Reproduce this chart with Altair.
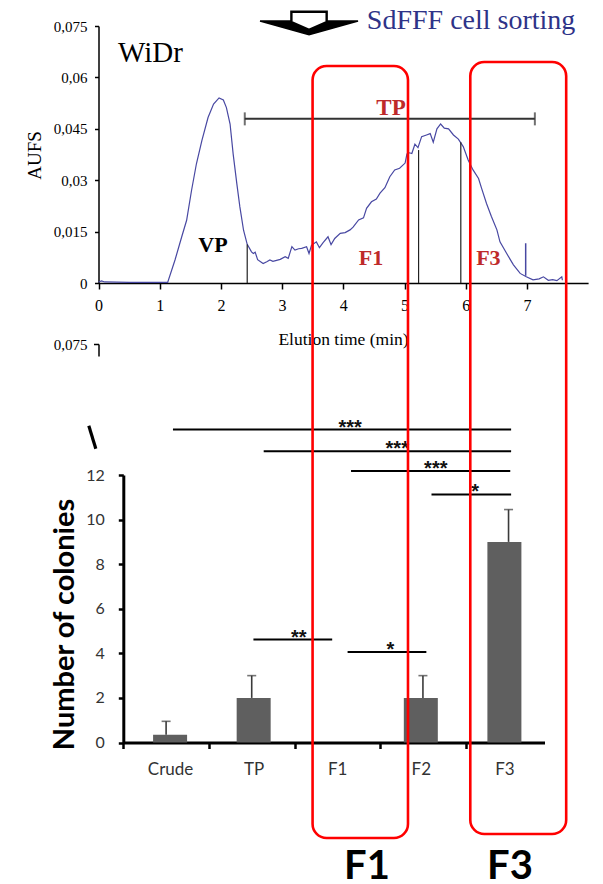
import json
import altair as alt
import pandas as pd

# ---------------- chromatogram (top panel) ----------------
elution_time = [0.00, 0.05, 0.10, 0.50, 1.00, 1.13, 1.25, 1.36, 1.44, 1.52, 1.60, 1.69, 1.79, 1.88,
                1.97, 2.04, 2.09, 2.15, 2.20, 2.26, 2.31, 2.37, 2.43, 2.50, 2.53, 2.56, 2.60, 2.69,
                2.75, 2.80, 2.85, 2.91, 2.97, 3.05, 3.10, 3.16, 3.21, 3.27, 3.32, 3.40, 3.44, 3.48,
                3.56, 3.61, 3.67, 3.75, 3.80, 3.86, 3.95, 4.03, 4.11, 4.16, 4.25, 4.33, 4.38, 4.46,
                4.54, 4.60, 4.68, 4.76, 4.84, 4.92, 5.01, 5.04, 5.08, 5.12, 5.17, 5.22, 5.28, 5.36,
                5.42, 5.47, 5.53, 5.59, 5.65, 5.72, 5.80, 5.88, 5.96, 6.04, 6.12, 6.21, 6.26, 6.34,
                6.42, 6.51, 6.56, 6.67, 6.78, 6.89, 6.99, 7.10, 7.20, 7.27, 7.35, 7.42, 7.49, 7.57, 7.58]
aufs = [0.0003, 0.0006, 0.0003, 0.0002, 0.0002, 0.0002, 0.0067, 0.0135, 0.0183, 0.0270, 0.0348,
        0.0416, 0.0483, 0.0522, 0.0540, 0.0534, 0.0512, 0.0464, 0.0377, 0.0290, 0.0222, 0.0154,
        0.0113, 0.0091, 0.0086, 0.0090, 0.0068, 0.0057, 0.0062, 0.0067, 0.0063, 0.0066, 0.0069,
        0.0077, 0.0072, 0.0106, 0.0096, 0.0100, 0.0101, 0.0106, 0.0086, 0.0110, 0.0120, 0.0103,
        0.0118, 0.0135, 0.0112, 0.0130, 0.0145, 0.0147, 0.0155, 0.0163, 0.0184, 0.0190, 0.0218,
        0.0237, 0.0245, 0.0262, 0.0278, 0.0310, 0.0330, 0.0335, 0.0350, 0.0377, 0.0380, 0.0378,
        0.0405, 0.0395, 0.0427, 0.0432, 0.0436, 0.0411, 0.0450, 0.0464, 0.0452, 0.0450, 0.0432,
        0.0420, 0.0398, 0.0359, 0.0330, 0.0305, 0.0276, 0.0232, 0.0194, 0.0155, 0.0120, 0.0086,
        0.0053, 0.0028, 0.0018, 0.0009, 0.0012, 0.0018, 0.0008, 0.0010, 0.0007, 0.0018, 0.0008]

cut_time = [2.43, 5.23, 5.92]
cut_top = [0.0112, 0.0388, 0.0411]
spike_time = [6.98]
spike_low = [0.0021]
spike_high = [0.0116]
tp_range = [2.39, 7.13]
tp_level = [0.0479]
aufs_ticks = [0, 0.015, 0.03, 0.045, 0.06, 0.075]
time_ticks = [0, 1, 2, 3, 4, 5, 6, 7]

# ---------------- colony counts (bottom panel) ----------------
categories = ["Crude", "TP", "F1", "F2", "F3"]
colonies = [0.35, 2.0, 0.0, 2.0, 9.0]
colonies_err = [0.6, 1.0, 0.0, 1.0, 1.45]
colony_ticks = [0, 2, 4, 6, 8, 10, 12]

sig_from = [0.58, 1.64, 2.66, 3.60, 1.52, 2.62]
sig_to = [4.53, 4.53, 4.52, 4.53, 2.44, 3.54]
sig_level = [14.04, 13.07, 12.18, 11.13, 4.62, 4.06]
sig_stars = ["***", "***", "***", "*", "**", "*"]
sig_star_pos = [2.65, 3.20, 3.65, 4.11, 2.05, 3.12]

# ---------------- highlighted fractions (figure overlay) ----------------
box_names = ["F1", "F3"]
box_t0 = [3.498, 6.075]
box_t1 = [5.057, 7.642]
box_top = [0.0747, 0.0701]      # fraction of figure height
box_bottom = [0.948, 0.9434]
box_label_t = [4.387, 6.724]
box_label_y = [0.994, 0.994]

SERIF = "Liberation Serif"
SANS = "Lato"
RED_TXT = "#be2a2a"
CURVE = "#4848a2"
W, H = 587, 876

SX_TOP = alt.Scale(domain=[0, 8], range=[90.5, 580.1], nice=False, zero=False)
SY_TOP = alt.Scale(domain=[0, 0.075], range=[275, 18], nice=False, zero=False)
SY_STRAY = alt.Scale(domain=[0.0702, 0.075], range=[348, 336], nice=False, zero=False)
SX_BOT = alt.Scale(domain=[0, 4.92], range=[115.3, 536.5], nice=False, zero=False)
SY_BOT = alt.Scale(domain=[0, 12], range=[734.5, 467], nice=False, zero=False)
SY_FIG = alt.Scale(domain=[0, 1], range=[-8, 876], nice=False, zero=False)

comma = "replace(format(datum.value, '~g'), '.', ',')"

AX_TOP = alt.Axis(orient="bottom", offset=275 - H, values=time_ticks, grid=False,
                  domainColor="black", domainWidth=1.5, tickColor="black", tickWidth=1.5, tickSize=6,
                  labelFont=SERIF, labelFontSize=16, labelColor="black", labelPadding=8, labelFlush=False,
                  title="Elution time (min)", titleFont=SERIF, titleFontSize=17.5, titleFontWeight="normal",
                  titleColor="black", titleX=335, titleY=61, titleAlign="center", titleBaseline="alphabetic")
AY_TOP = alt.Axis(orient="left", offset=-90.5, values=aufs_ticks, grid=False, labelExpr=comma,
                  domainColor="black", domainWidth=1.5, tickColor="black", tickWidth=1.5, tickSize=4,
                  labelFont=SERIF, labelFontSize=15, labelColor="black", labelPadding=7.5, labelFlush=False,
                  title="AUFS", titleFont=SERIF, titleFontSize=19, titleFontWeight="normal", titleColor="black",
                  titleAngle=270, titleX=-58, titleY=147, titleAlign="center", titleBaseline="alphabetic")
AY_STRAY = alt.Axis(orient="left", offset=-90.5, values=[0.075], grid=False, labelExpr=comma,
                    domainColor="black", domainWidth=1.5, tickColor="black", tickWidth=1.5, tickSize=5,
                    labelFont=SERIF, labelFontSize=15, labelColor="black", labelPadding=6.5, labelFlush=False,
                    title=None)
AX_BOT_TICKS = alt.Axis(orient="bottom", offset=734.5 - H, values=[0, 1, 2, 3, 4], labels=False, grid=False,
                        tickSize=6, tickWidth=2.5, tickColor="black", domainColor="black", domainWidth=3,
                        title=None)
AX_BOT_LABELS = alt.Axis(orient="bottom", offset=734.5 - H, values=[0.5, 1.5, 2.5, 3.5, 4.5],
                         ticks=False, tickSize=0, domain=False, grid=False,
                         labelExpr=json.dumps(categories) + "[floor(datum.value)]",
                         labelFont=SANS, labelFontSize=17, labelColor="#333333", labelPadding=19,
                         labelFlush=False, title=None)
AY_BOT = alt.Axis(orient="left", offset=-115.3, values=colony_ticks, grid=False,
                  domainColor="black", domainWidth=3, tickColor="black", tickWidth=2.5, tickSize=5,
                  labelFont=SANS, labelFontSize=16, labelColor="#333333", labelPadding=14, labelFlush=False,
                  title="Number of colonies", titleFont=SANS, titleFontSize=29, titleFontWeight="bold",
                  titleColor="black", titleAngle=270, titleX=-50.3, titleY=616, titleAlign="center",
                  titleBaseline="alphabetic")

# ---- top panel layers ----
df_curve = pd.DataFrame({"t": elution_time, "v": aufs})
curve = alt.Chart(df_curve).mark_line(color=CURVE, strokeWidth=1.2).encode(
    x=alt.X("t:Q", scale=SX_TOP, axis=AX_TOP),
    y=alt.Y("v:Q", scale=SY_TOP, axis=AY_TOP),
)

df_cut = pd.DataFrame({"t": cut_time, "top": cut_top, "base": [0.0] * len(cut_time)})
cuts = alt.Chart(df_cut).mark_rule(color="#222222", strokeWidth=1.2).encode(
    x=alt.X("t:Q", scale=SX_TOP, axis=None),
    y=alt.Y("base:Q", scale=SY_TOP, axis=None),
    y2="top:Q",
)

df_spike = pd.DataFrame({"t": spike_time, "lo": spike_low, "hi": spike_high})
spike = alt.Chart(df_spike).mark_rule(color=CURVE, strokeWidth=1.5).encode(
    x=alt.X("t:Q", scale=SX_TOP, axis=None),
    y=alt.Y("lo:Q", scale=SY_TOP, axis=None),
    y2="hi:Q",
)

df_tp = pd.DataFrame({"t0": [tp_range[0]], "t1": [tp_range[1]], "v": tp_level})
tp_line = alt.Chart(df_tp).mark_rule(color="#333333", strokeWidth=2).encode(
    x=alt.X("t0:Q", scale=SX_TOP, axis=None), x2="t1:Q",
    y=alt.Y("v:Q", scale=SY_TOP, axis=None),
)
df_tp_caps = pd.DataFrame({"t": tp_range, "v": tp_level * 2})
tp_caps = alt.Chart(df_tp_caps).mark_tick(orient="vertical", size=13, thickness=2, color="#333333").encode(
    x=alt.X("t:Q", scale=SX_TOP, axis=None),
    y=alt.Y("v:Q", scale=SY_TOP, axis=None),
)


def label(text, t, v, size, color="black", weight="normal", font=SERIF, align="center", scale_y=SY_TOP):
    df = pd.DataFrame({"t": [t], "v": [v], "txt": [text]})
    return alt.Chart(df).mark_text(font=font, fontSize=size, fontWeight=weight, color=color,
                                   align=align, baseline="alphabetic").encode(
        x=alt.X("t:Q", scale=SX_TOP, axis=None),
        y=alt.Y("v:Q", scale=scale_y, axis=None),
        text="txt:N",
    )


widr = label("WiDr", 0.319, 0.0645, 29, align="left")
vp = label("VP", 1.871, 0.00905, 22, weight="bold")
tp_txt = label("TP", 4.779, 0.0490, 23, color=RED_TXT, weight="bold")
f1_txt = label("F1", 4.453, 0.00525, 22, color=RED_TXT, weight="bold")
f3_txt = label("F3", 6.370, 0.00525, 22, color=RED_TXT, weight="bold")
sorting = label("SdFFF cell sorting", 4.385, 0.07420, 28, color="#2e3388", align="left")

arrow_head = alt.Chart(pd.DataFrame({"t": [3.44], "v": [0.07646]})).mark_point(
    shape="M -1 0 L 1 0 L 0 0.28 Z", size=9604, filled=True, fill="black", stroke="black",
    strokeWidth=1.5, opacity=1).encode(
    x=alt.X("t:Q", scale=SX_TOP, axis=None),
    y=alt.Y("v:Q", scale=SY_TOP, axis=None),
)
arrow_stem = alt.Chart(pd.DataFrame({"t": [3.44], "v": [0.07646]})).mark_point(
    shape="M -0.36 -0.19 L 0.36 -0.19 L 0.36 0.02 L 0 0.18 L -0.36 0.02 Z", size=9604,
    filled=True, fill="white", stroke="black", strokeWidth=2.4, opacity=1).encode(
    x=alt.X("t:Q", scale=SX_TOP, axis=None),
    y=alt.Y("v:Q", scale=SY_TOP, axis=None),
)

stray_axis = alt.Chart(pd.DataFrame({"v": [0.075]})).mark_point(opacity=0).encode(
    x=alt.X("v:Q", scale=SX_TOP, axis=None),
    y=alt.Y("v:Q", scale=SY_STRAY, axis=AY_STRAY),
)

# ---- bottom panel layers ----
df_bars = pd.DataFrame({"category": categories, "colonies": colonies, "err": colonies_err,
                        "slot": list(range(len(categories)))})
bars_base = alt.Chart(df_bars).transform_calculate(
    xc="datum.slot + 0.5", top="datum.colonies + datum.err", base="0")
bars = bars_base.mark_bar(size=34, color="#5f5f5f").encode(
    x=alt.X("xc:Q", scale=SX_BOT, axis=AX_BOT_LABELS),
    y=alt.Y("colonies:Q", scale=SY_BOT, axis=AY_BOT),
    y2="base:Q",
)
err_rule = bars_base.transform_filter("datum.err > 0").mark_rule(color="#3a3a3a", strokeWidth=1.6).encode(
    x=alt.X("xc:Q", scale=SX_BOT, axis=None),
    y=alt.Y("colonies:Q", scale=SY_BOT, axis=None),
    y2="top:Q",
)
err_cap = bars_base.transform_filter("datum.err > 0").mark_tick(
    orient="horizontal", size=9, thickness=1.6, color="#3a3a3a").encode(
    x=alt.X("xc:Q", scale=SX_BOT, axis=None),
    y=alt.Y("top:Q", scale=SY_BOT, axis=None),
)

df_sig = pd.DataFrame({"x0": sig_from, "x1": sig_to, "lvl": sig_level, "stars": sig_stars,
                       "sx": sig_star_pos})
sig_lines = alt.Chart(df_sig).mark_rule(color="black", strokeWidth=2).encode(
    x=alt.X("x0:Q", scale=SX_BOT, axis=AX_BOT_TICKS), x2="x1:Q",
    y=alt.Y("lvl:Q", scale=SY_BOT, axis=None),
)
sig_text = alt.Chart(df_sig).mark_text(font="Liberation Sans", fontSize=20, fontWeight="bold",
                                       color="#111111", baseline="alphabetic", dy=4).encode(
    x=alt.X("sx:Q", scale=SX_BOT, axis=None),
    y=alt.Y("lvl:Q", scale=SY_BOT, axis=None),
    text="stars:N",
)

stray_mark = alt.Chart(pd.DataFrame({"x0": [-0.403], "x1": [-0.321], "y0": [14.21], "y1": [13.18]})).mark_rule(
    color="black", strokeWidth=3.2).encode(
    x=alt.X("x0:Q", scale=SX_BOT, axis=None), x2="x1:Q",
    y=alt.Y("y0:Q", scale=SY_BOT, axis=None), y2="y1:Q",
)

# ---- overlay: highlighted fractions ----
df_box = pd.DataFrame({"name": box_names, "t0": box_t0, "t1": box_t1, "top": box_top, "bottom": box_bottom,
                       "lt": box_label_t, "ly": box_label_y})
boxes = alt.Chart(df_box).mark_rect(fillOpacity=0, stroke="#ff0000", strokeWidth=2.6, cornerRadius=14).encode(
    x=alt.X("t0:Q", scale=SX_TOP, axis=None), x2="t1:Q",
    y=alt.Y("top:Q", scale=SY_FIG, axis=None), y2="bottom:Q",
)
box_labels = alt.Chart(df_box).mark_text(font=SANS, fontSize=40, fontWeight="bold", color="black",
                                         baseline="alphabetic").encode(
    x=alt.X("lt:Q", scale=SX_TOP, axis=None),
    y=alt.Y("ly:Q", scale=SY_FIG, axis=None),
    text="name:N",
)

chart = alt.layer(
    curve, cuts, spike, tp_line, tp_caps, widr, vp, tp_txt, f1_txt, f3_txt, sorting,
    arrow_head, arrow_stem, stray_axis,
    bars, err_rule, err_cap, sig_lines, sig_text, stray_mark,
    boxes, box_labels,
).resolve_scale(x="independent", y="independent").resolve_axis(x="independent", y="independent").properties(
    width=W, height=H, autosize=alt.AutoSizeParams(type="none"), padding=0,
).configure_view(strokeWidth=0)

chart.save("out.html", embed_options={"renderer": "svg", "actions": False})
